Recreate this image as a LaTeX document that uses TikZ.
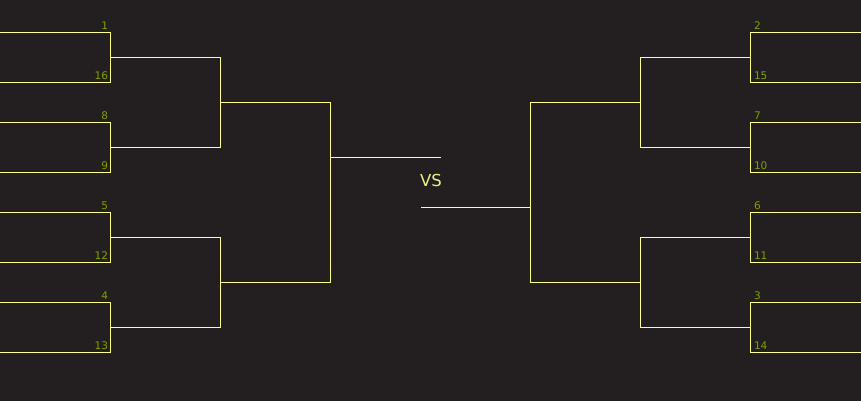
\documentclass[tikz,border=0pt]{standalone}
\usepackage{fontspec}
\setmainfont{DejaVu Sans}
\usepackage{tikz}
\usetikzlibrary{positioning}
\definecolor{board}{HTML}{231F20}
\definecolor{wire}{HTML}{FFFF8C}
\definecolor{seedgreen}{HTML}{7FA000}
\definecolor{vsyellow}{HTML}{EEEE88}

\begin{document}
\begin{tikzpicture}[x=1pt,y=-1pt,line width=1pt,wire/.style={draw=wire},
    seedL/.style={text=seedgreen,font=\fontsize{10.5}{12}\selectfont,inner sep=0pt,anchor=base east},
    seedR/.style={text=seedgreen,font=\fontsize{10.5}{12}\selectfont,inner sep=0pt,anchor=base west}]
    \fill[board] (-0.5,-0.5) rectangle (860.5,400.5);
    \useasboundingbox (-0.5,-0.5) rectangle (860.5,400.5);

    % free ends of the first round
    \coordinate (e1)  at (0,32);   \coordinate (e16) at (0,82);
    \coordinate (e8)  at (0,122);  \coordinate (e9)  at (0,172);
    \coordinate (e5)  at (0,212);  \coordinate (e12) at (0,262);
    \coordinate (e4)  at (0,302);  \coordinate (e13) at (0,352);
    \coordinate (e2)  at (861,32);  \coordinate (e15) at (861,82);
    \coordinate (e7)  at (861,122); \coordinate (e10) at (861,172);
    \coordinate (e6)  at (861,212); \coordinate (e11) at (861,262);
    \coordinate (e3)  at (861,302); \coordinate (e14) at (861,352);

    % winners of each round
    \coordinate (w1) at (110,57);  \coordinate (w8) at (110,147);
    \coordinate (w5) at (110,237); \coordinate (w4) at (110,327);
    \coordinate (w2) at (750,57);  \coordinate (w7) at (750,147);
    \coordinate (w6) at (750,237); \coordinate (w3) at (750,327);
    \coordinate (q1) at (220,102); \coordinate (q4) at (220,282);
    \coordinate (q2) at (640,102); \coordinate (q3) at (640,282);
    \coordinate (fl) at (330,157); \coordinate (fr) at (530,207);

    \node[text=vsyellow,font=\fontsize{16.5}{20}\selectfont,inner sep=0pt] (vs) at (430.5,180) {VS};
    \coordinate (vsl) at (440,157);
    \coordinate (vsr) at (420,207);

    % seeds
    \node[seedL] (l1)  at (108,29)  {1};
    \node[seedL] (l16) at (108,79)  {16};
    \node[seedL] (l8)  at (108,119) {8};
    \node[seedL] (l9)  at (108,169) {9};
    \node[seedL] (l5)  at (108,209) {5};
    \node[seedL] (l12) at (108,259) {12};
    \node[seedL] (l4)  at (108,299) {4};
    \node[seedL] (l13) at (108,349) {13};
    \node[seedR] (r2)  at (753,29)  {2};
    \node[seedR] (r15) at (753,79)  {15};
    \node[seedR] (r7)  at (753,119) {7};
    \node[seedR] (r10) at (753,169) {10};
    \node[seedR] (r6)  at (753,209) {6};
    \node[seedR] (r11) at (753,259) {11};
    \node[seedR] (r3)  at (753,299) {3};
    \node[seedR] (r14) at (753,349) {14};

    % left half
    \path[wire]
    (e1) -| (w1) |- (e16)
    (e8) -| (w8) |- (e9)
    (e5) -| (w5) |- (e12)
    (e4) -| (w4) |- (e13)
    (w1) -| (q1) |- (w8)
    (w5) -| (q4) |- (w4)
    (q1) -| (fl) |- (q4)
    (fl) -- (vsl);

    % right half
    \path[wire]
    (e2) -| (w2) |- (e15)
    (e7) -| (w7) |- (e10)
    (e6) -| (w6) |- (e11)
    (e3) -| (w3) |- (e14)
    (w2) -| (q2) |- (w7)
    (w6) -| (q3) |- (w3)
    (q2) -| (fr) |- (q3)
    (fr) -- (vsr);
\end{tikzpicture}
\end{document}
